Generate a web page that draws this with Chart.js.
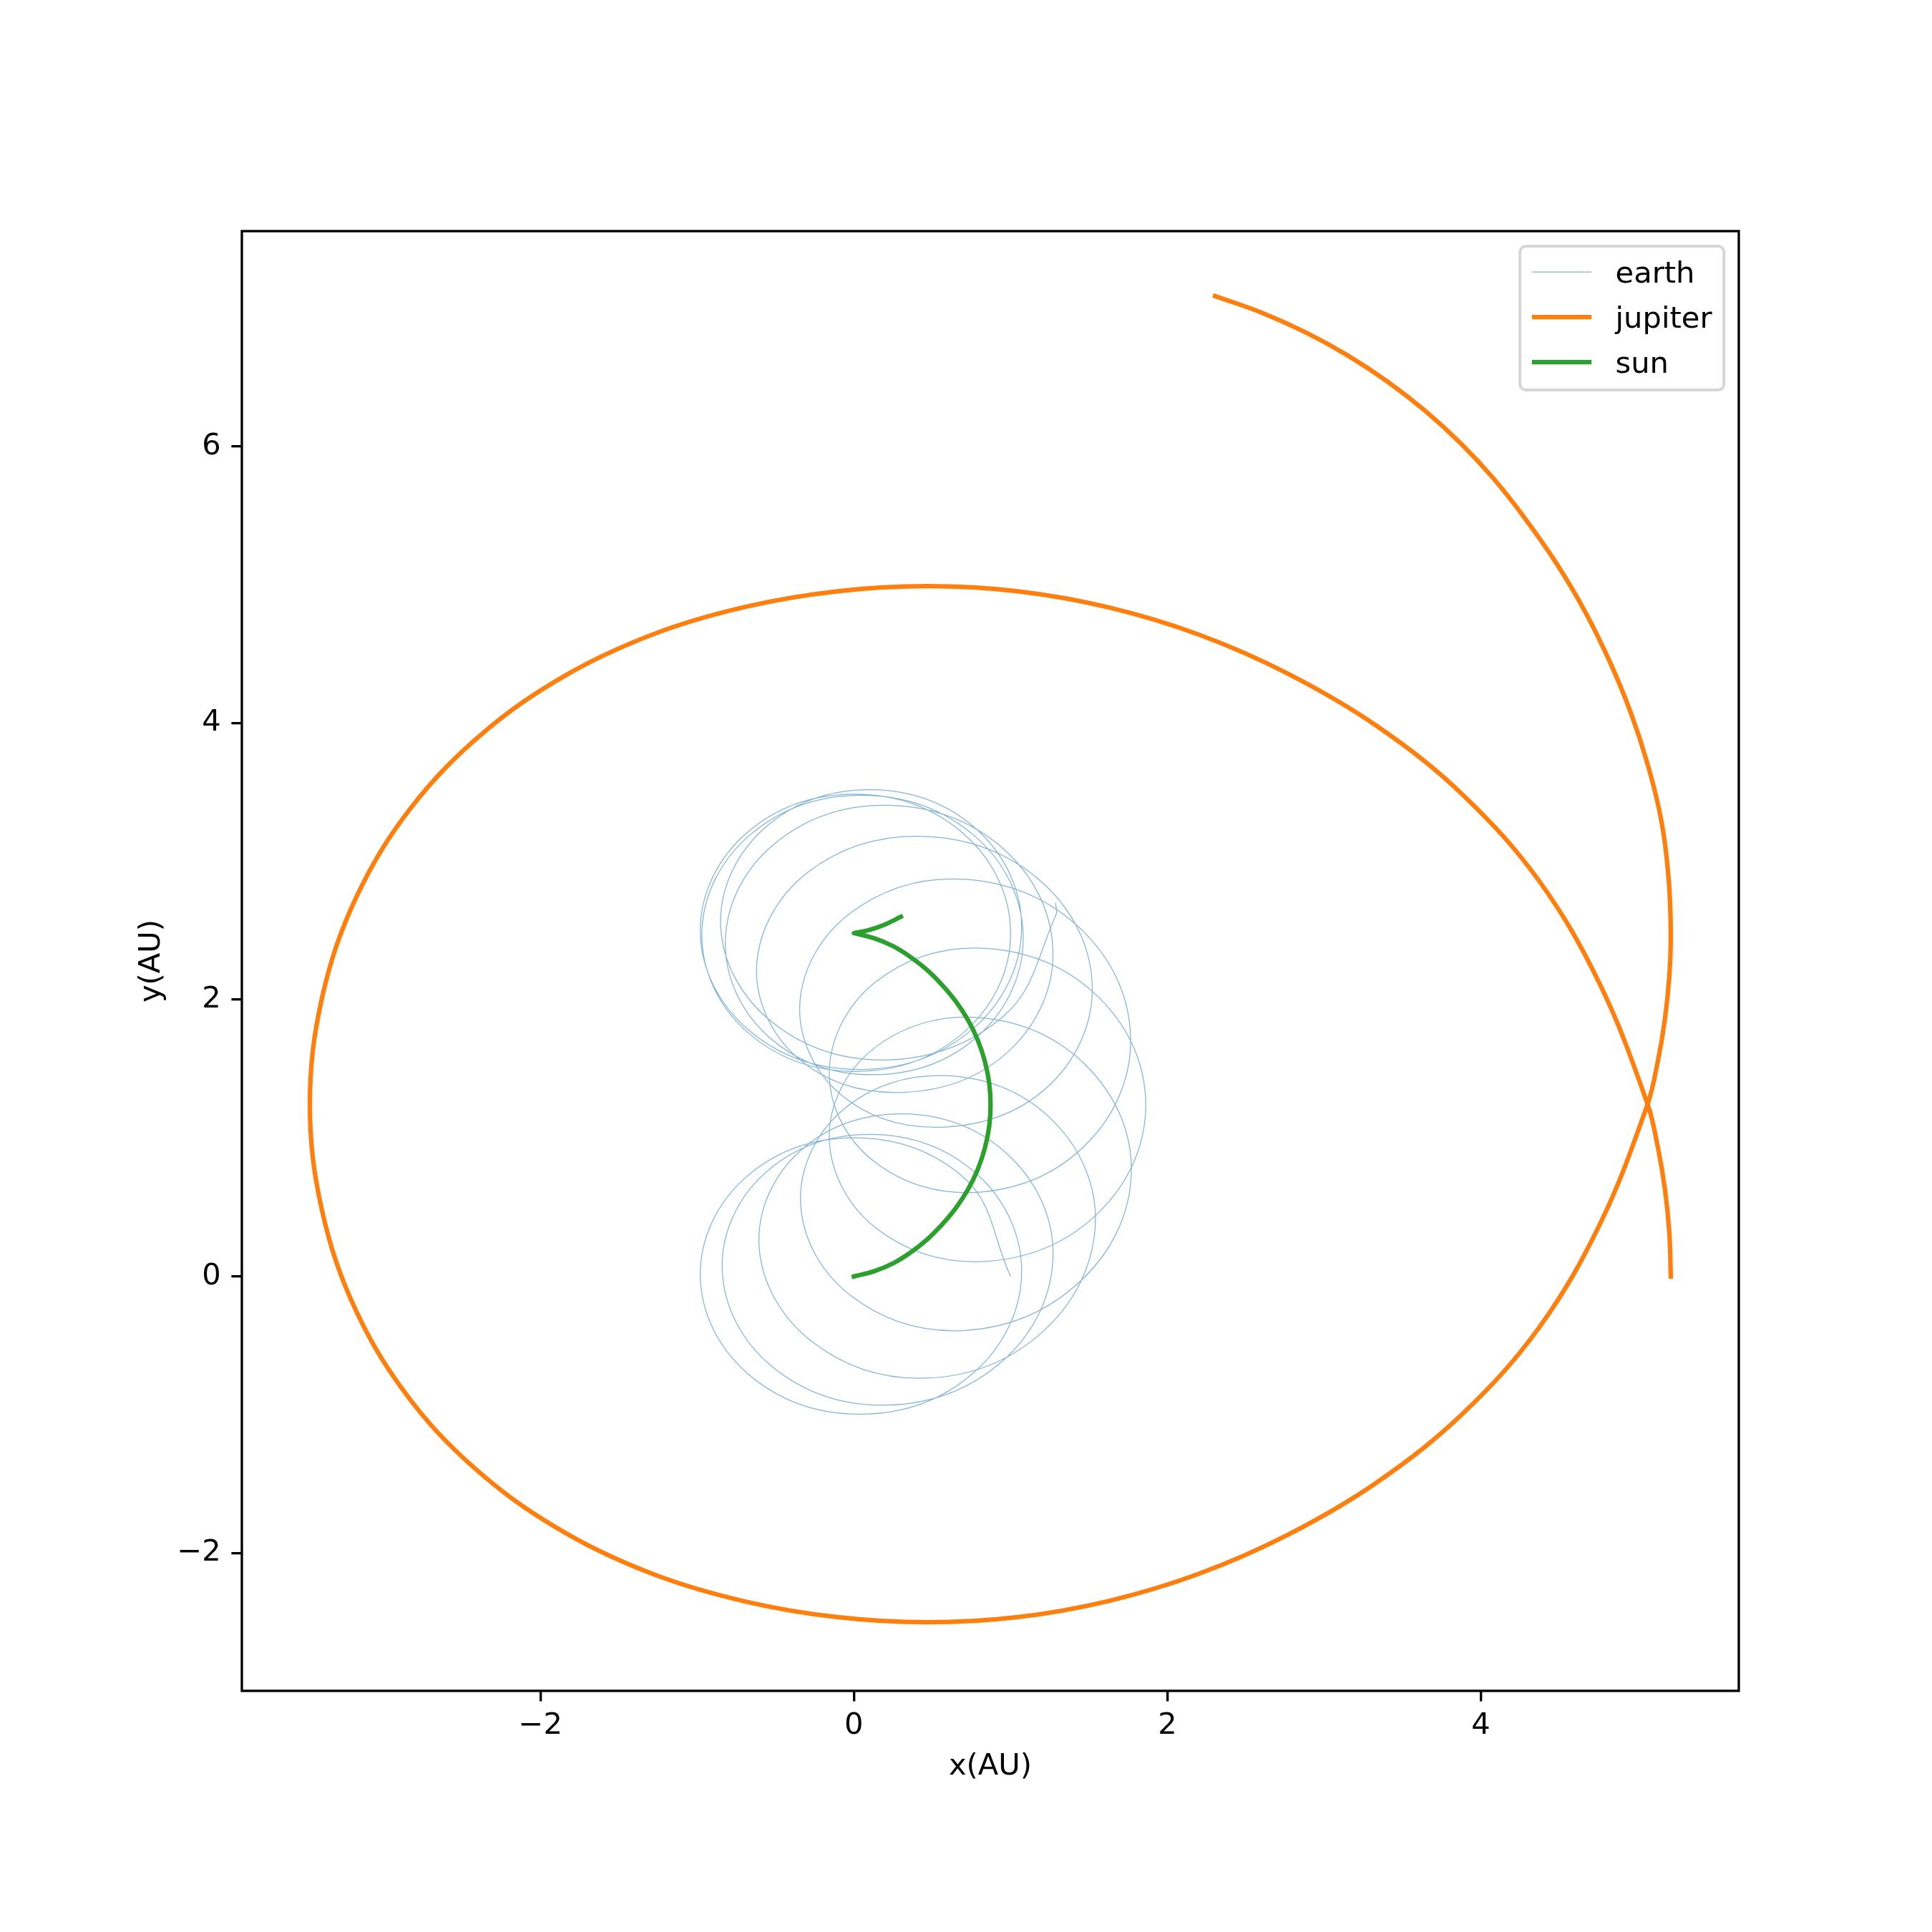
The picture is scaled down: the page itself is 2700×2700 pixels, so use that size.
<!DOCTYPE html>
<html><head><meta charset="utf-8">
<style>html,body{margin:0;padding:0;background:#fff;} canvas{display:block;}</style>
<script src="https://cdn.jsdelivr.net/npm/chart.js@4.4.1/dist/chart.umd.min.js"></script>
</head><body>
<canvas id="c" width="2700" height="2700" style="width:2700px;height:2700px"></canvas>
<script>
// ---------------- data ----------------
const seriesNames = ['earth', 'jupiter', 'sun'];
const seriesColors = ['rgba(31,119,180,0.55)', '#ff7f0e', '#2ca02c'];
const xTickValues = [-2, 0, 2, 4];
const yTickValues = [-2, 0, 2, 4, 6];
const xLabel = 'x(AU)';
const yLabel = 'y(AU)';

const earthX = [
  1.000, 0.709, 0.006, -0.695, -0.980, -0.677, 0.040, 0.761,
  1.070, 0.797, 0.110, -0.572, -0.840, -0.522, 0.210, 0.947,
  1.270, 1.007, 0.332, -0.343, -0.605, -0.277, 0.465, 1.207,
  1.540, 1.277, 0.600, -0.077, -0.340, -0.022, 0.712, 1.447,
  1.770, 1.497, 0.810, 0.121, -0.157, 0.143, 0.856, 1.567,
  1.862, 1.567, 0.856, 0.143, -0.157, 0.121, 0.810, 1.497,
  1.765, 1.447, 0.712, -0.022, -0.345, -0.087, 0.580, 1.257,
  1.520, 1.192, 0.450, -0.292, -0.620, -0.362, 0.310, 0.997,
  1.270, 0.952, 0.220, -0.507, -0.820, -0.552, 0.130, 0.812,
  1.080, 0.771, 0.050, -0.667, -0.970, -0.687, 0.012, 0.712,
  1.000, 0.709, 0.006, -0.695, -0.980, -0.677, 0.040, 0.761,
  1.070, 0.797, 0.110, -0.577, -0.850, -0.527, 0.210, 0.957,
  1.290, 1.286
];
const earthY = [
  0.000, 0.707, 1.002, 0.711, 0.005, -0.703, -0.996, -0.699,
  0.015, 0.727, 1.027, 0.742, 0.045, -0.651, -0.930, -0.612,
  0.125, 0.854, 1.175, 0.907, 0.225, -0.462, -0.735, -0.397,
  0.370, 1.117, 1.450, 1.197, 0.530, -0.137, -0.390, -0.032,
  0.740, 1.507, 1.870, 1.642, 1.000, 0.348, 0.110, 0.468,
  1.240, 2.012, 2.370, 2.132, 1.480, 0.838, 0.610, 0.973,
  1.740, 2.512, 2.870, 2.627, 1.970, 1.318, 1.080, 1.393,
  2.120, 2.857, 3.180, 2.922, 2.250, 1.583, 1.330, 1.638,
  2.360, 3.092, 3.405, 3.127, 2.435, 1.741, 1.458, 1.759,
  2.472, 3.183, 3.478, 3.187, 2.481, 1.774, 1.482, 1.775,
  2.482, 3.190, 3.485, 3.194, 2.490, 1.786, 1.496, 1.792,
  2.503, 3.217, 3.518, 3.233, 2.535, 1.843, 1.565, 1.883,
  2.615, 2.700
];

const jupiterX = [
  5.212, 5.203, 5.175, 5.129, 5.064,
  4.764, 4.375, 3.887, 3.342, 2.774, 2.201, 1.624, 1.047, 0.470, -0.107,
  -0.686, -1.265, -1.831, -2.360, -2.820, -3.173, -3.393, -3.471,
  -3.393, -3.173, -2.820, -2.360, -1.831, -1.265, -0.686, -0.107, 0.470,
  1.047, 1.624, 2.201, 2.774, 3.342, 3.887, 4.375, 4.764,
  5.064, 5.129, 5.175, 5.203, 5.212, 5.197, 5.152, 5.068, 4.957, 4.820, 4.662, 4.480, 4.277,
  4.086, 3.876, 3.649, 3.405, 3.147, 2.876, 2.595, 2.304
];
const jupiterY = [
  0.000, 0.314, 0.627, 0.937, 1.245,
  2.102, 2.854, 3.479, 3.974, 4.354, 4.639, 4.836, 4.952, 4.989, 4.952,
  4.841, 4.648, 4.350, 3.934, 3.396, 2.746, 2.016, 1.245,
  0.474, -0.256, -0.906, -1.444, -1.860, -2.158, -2.351, -2.462, -2.499,
  -2.462, -2.346, -2.149, -1.864, -1.484, -0.989, -0.364, 0.388,
  1.245, 1.553, 1.863, 2.176, 2.490, 2.893, 3.293, 3.688, 4.074, 4.450, 4.812, 5.158, 5.486,
  5.760, 6.016, 6.252, 6.467, 6.659, 6.827, 6.969, 7.086
];

const sunX = [0.000, 0.130, 0.250, 0.360, 0.465, 0.560, 0.650, 0.728, 0.790, 0.835,
              0.863, 0.872, 0.863, 0.835, 0.790, 0.728, 0.650, 0.560, 0.465, 0.360,
              0.250, 0.130, 0.000, 0.000, 0.100, 0.200, 0.300];
const sunY = [0.000, 0.038, 0.095, 0.172, 0.265, 0.372, 0.494, 0.629, 0.773, 0.925,
              1.082, 1.241, 1.400, 1.557, 1.709, 1.853, 1.988, 2.110, 2.217, 2.310,
              2.387, 2.444, 2.482, 2.482, 2.505, 2.545, 2.600];

// ---------------- chart ----------------
const FONT_FAMILY = '"DejaVu Sans", "Liberation Sans", sans-serif';
const FONT_PX = 41.67;
const AREA = {left: 338, right: 2430, top: 323, bottom: 2363};
const Y_AXIS_W = 200, X_AXIS_H = 200;

const toPoints = (xs, ys) => xs.map((x, i) => ({x: x, y: ys[i]}));
const fmtTick = v => (v < 0 ? '\u2212' + Math.abs(v) : String(v));

const framePlugin = {
  id: 'frameAndLegend',
  afterDatasetsDraw(chart) {
    const {ctx, chartArea: a} = chart;
    ctx.save();
    ctx.strokeStyle = '#000';
    ctx.lineWidth = 3.33;
    ctx.lineJoin = 'miter';
    ctx.strokeRect(a.left, a.top, a.right - a.left, a.bottom - a.top);
    ctx.restore();
  },
  afterDraw(chart) {
    const {ctx, chartArea: a} = chart;
    const fw = 285, fh = 201;
    const fx = a.right - 20.8 - fw, fy = a.top + 21;
    ctx.save();
    const r = 8.3;
    ctx.beginPath();
    ctx.moveTo(fx + r, fy);
    ctx.lineTo(fx + fw - r, fy);
    ctx.arcTo(fx + fw, fy, fx + fw, fy + r, r);
    ctx.lineTo(fx + fw, fy + fh - r);
    ctx.arcTo(fx + fw, fy + fh, fx + fw - r, fy + fh, r);
    ctx.lineTo(fx + r, fy + fh);
    ctx.arcTo(fx, fy + fh, fx, fy + fh - r, r);
    ctx.lineTo(fx, fy + r);
    ctx.arcTo(fx, fy, fx + r, fy, r);
    ctx.closePath();
    ctx.fillStyle = 'rgba(255,255,255,0.8)';
    ctx.fill();
    ctx.strokeStyle = 'rgba(204,204,204,0.8)';
    ctx.lineWidth = 4;
    ctx.stroke();
    const hx0 = fx + 16.7, hx1 = hx0 + 83.3, tx = hx1 + 33.3;
    ctx.font = FONT_PX + 'px ' + FONT_FAMILY;
    ctx.textAlign = 'left';
    ctx.textBaseline = 'alphabetic';
    chart.data.datasets.forEach((ds, i) => {
      const yRow = fy + 36 + i * 63;
      ctx.beginPath();
      ctx.moveTo(hx0, yRow);
      ctx.lineTo(hx1, yRow);
      ctx.strokeStyle = ds.borderColor;
      ctx.lineWidth = ds.borderWidth;
      ctx.lineCap = 'butt';
      ctx.stroke();
      ctx.fillStyle = '#000';
      ctx.fillText(ds.label, tx, yRow + 15);
    });
    ctx.restore();
  }
};

const axisCommon = {
  type: 'linear',
  grid: {display: true, drawOnChartArea: false, drawTicks: true, tickLength: 14.6,
         tickWidth: 3.33, tickColor: '#000', lineWidth: 3.33, color: '#000'},
  border: {display: false},
};

new Chart(document.getElementById('c').getContext('2d'), {
  type: 'line',
  data: {
    datasets: [
      {label: seriesNames[0], data: toPoints(earthX, earthY), pointRadius: 0,
       borderColor: seriesColors[0], borderWidth: 1.25, tension: 0.38, order: 3, fill: false},
      {label: seriesNames[1], data: toPoints(jupiterX, jupiterY), pointRadius: 0,
       borderColor: seriesColors[1], borderWidth: 6.25, tension: 0.36, order: 2, fill: false,
       borderCapStyle: 'square', borderJoinStyle: 'round'},
      {label: seriesNames[2], data: toPoints(sunX, sunY), pointRadius: 0,
       borderColor: seriesColors[2], borderWidth: 6.25, tension: 0.36, order: 1, fill: false,
       borderCapStyle: 'square', borderJoinStyle: 'round'}
    ]
  },
  options: {
    responsive: false,
    maintainAspectRatio: false,
    devicePixelRatio: 1,
    animation: false,
    events: [],
    layout: {padding: {left: AREA.left - Y_AXIS_W, right: 2700 - AREA.right,
                       top: AREA.top, bottom: 2700 - AREA.bottom - X_AXIS_H}},
    plugins: {legend: {display: false}, tooltip: {enabled: false}, title: {display: false}},
    scales: {
      x: Object.assign({}, axisCommon, {
        position: 'bottom',
        min: -3.905, max: 5.646,
        afterBuildTicks: s => { s.ticks = xTickValues.map(v => ({value: v})); },
        afterFit: s => { s.height = X_AXIS_H; },
        ticks: {padding: 10, color: '#000', autoSkip: false, maxRotation: 0,
                font: {family: FONT_FAMILY, size: FONT_PX}, callback: v => fmtTick(v)},
        title: {display: true, text: xLabel, color: '#000',
                font: {family: FONT_FAMILY, size: FONT_PX, lineHeight: 1.2},
                padding: {top: 0, bottom: 69}}
      }),
      y: Object.assign({}, axisCommon, {
        position: 'left',
        min: -2.995, max: 7.555,
        afterBuildTicks: s => { s.ticks = yTickValues.map(v => ({value: v})); },
        afterFit: s => { s.width = Y_AXIS_W; },
        ticks: {padding: 14.6, color: '#000', autoSkip: false,
                font: {family: FONT_FAMILY, size: FONT_PX}, callback: v => fmtTick(v)},
        title: {display: true, text: yLabel, color: '#000',
                font: {family: FONT_FAMILY, size: FONT_PX, lineHeight: 1.2},
                padding: {top: 49, bottom: 0}}
      })
    }
  },
  plugins: [framePlugin]
});
</script>
</body></html>
